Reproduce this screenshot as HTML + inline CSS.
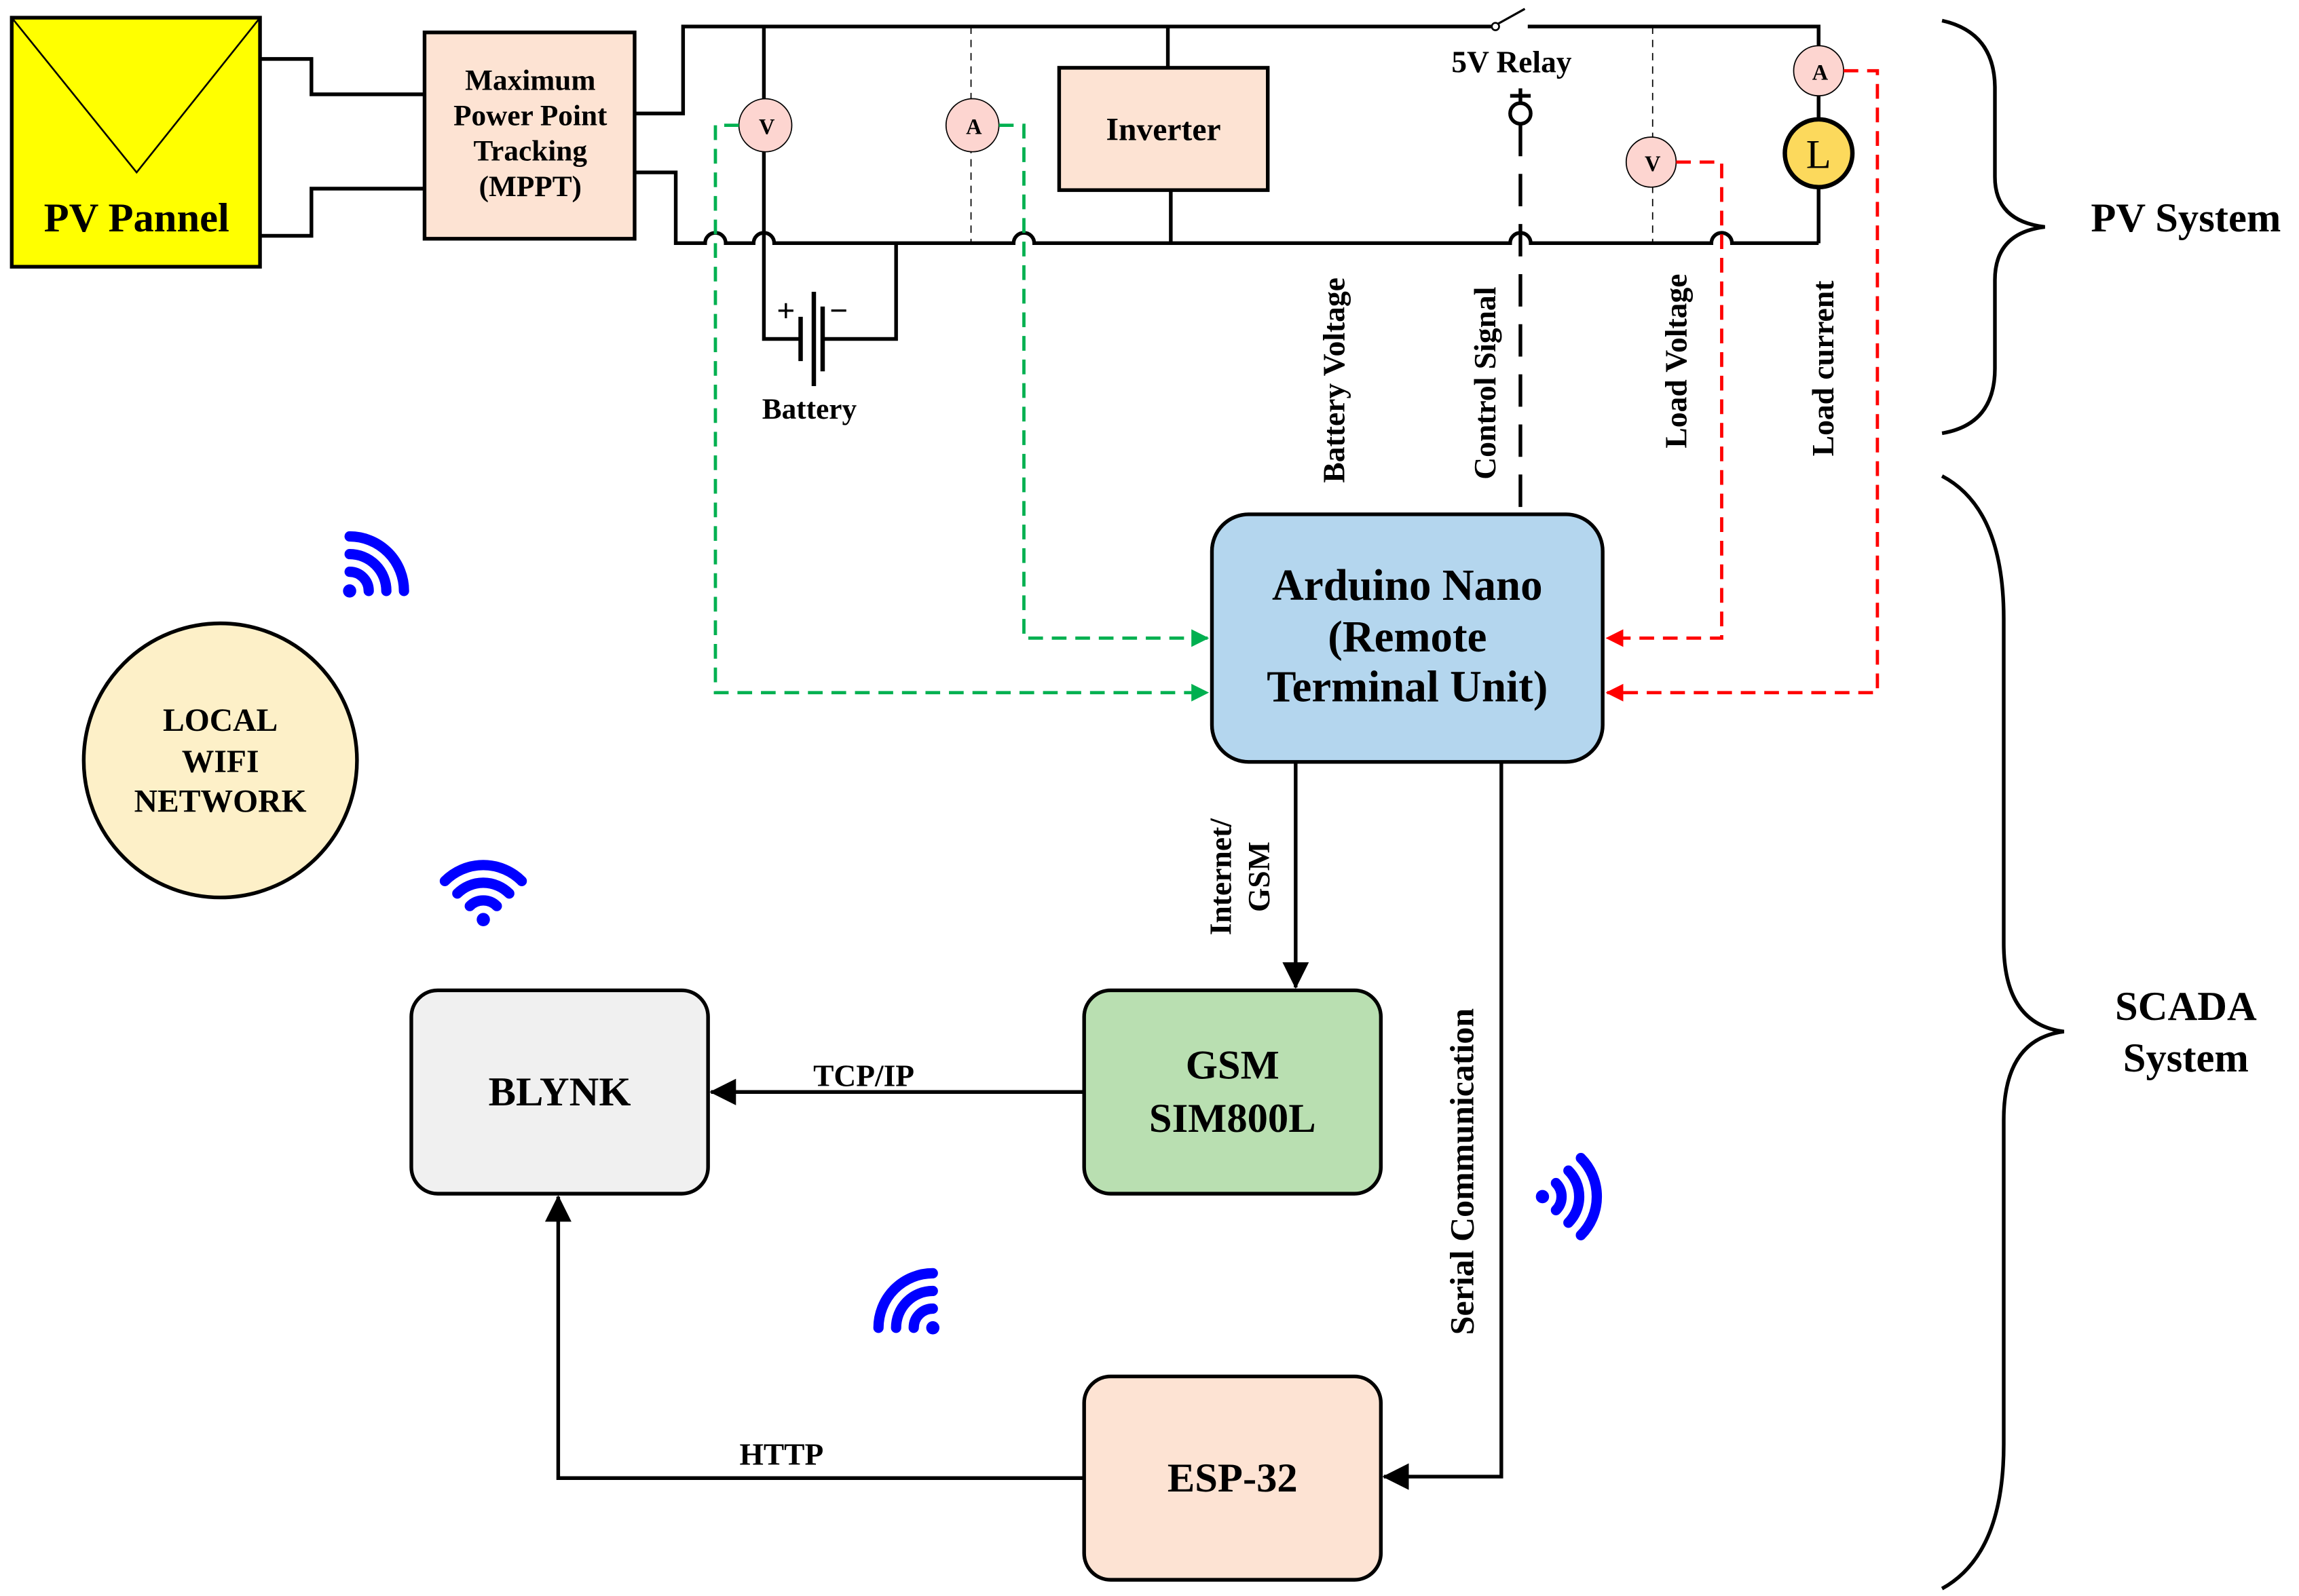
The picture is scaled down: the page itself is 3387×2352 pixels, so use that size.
<!DOCTYPE html>
<html><head><meta charset="utf-8"><style>
html,body{margin:0;padding:0;background:#fff;}
svg{display:block;}
text{font-family:"Liberation Serif",serif;font-weight:bold;fill:#000;}
</style></head><body>
<svg width="3387" height="2352" viewBox="0 0 1565 1083" preserveAspectRatio="none" xmlns="http://www.w3.org/2000/svg">
<defs>
<marker id="ag" markerWidth="12" markerHeight="12" refX="11" refY="6" orient="auto" markerUnits="userSpaceOnUse"><path d="M0,0 L12,6 L0,12 z" fill="#00b050"/></marker>
<marker id="ar" markerWidth="12" markerHeight="12" refX="11" refY="6" orient="auto" markerUnits="userSpaceOnUse"><path d="M0,0 L12,6 L0,12 z" fill="#ff0000"/></marker>
<marker id="ak" markerWidth="18" markerHeight="18" refX="17" refY="9" orient="auto" markerUnits="userSpaceOnUse"><path d="M0,0 L18,9 L0,18 z" fill="#000"/></marker>
<g id="wifi" fill="none" stroke="#0000ff" stroke-width="7" stroke-linecap="round">
<circle cx="0" cy="0" r="4.5" fill="#0000ff" stroke="none"/>
<path d="M0,-13 A13,13 0 0 1 13,0"/><path d="M0,-25 A25,25 0 0 1 25,0"/><path d="M0,-37 A37,37 0 0 1 37,0"/>
</g>
</defs>

<rect x="8" y="12" width="169" height="169" fill="#ffff00" stroke="#000" stroke-width="2.5"/>
<path d="M8,12 L93,117 L177,12" fill="none" stroke="#000" stroke-width="1.2"/>
<text x="93" y="157" font-size="28" text-anchor="middle">PV Pannel</text>

<g fill="none" stroke="#000" stroke-width="2.5">
<path d="M177,40 H212 V64 H289"/>
<path d="M177,160 H212 V128 H289"/>
<path d="M432,77 H465 V18 H1017"/>
<path d="M1040,18 H1238 V165"/>
<path d="M432,117 H460 V165 H480 a7,7 0 0 1 14,0 H513 a7,7 0 0 1 14,0 H690 a7,7 0 0 1 14,0 H1028 a7,7 0 0 1 14,0 H1165 a7,7 0 0 1 14,0 H1238"/>
<path d="M520,18 V67 M520,103 V230 H545 M560,230 H610 V165"/>
<path d="M795,18 V46 M797,129 V165"/>
<path d="M1238,18 V30 M1238,66 V80 M1238,128 V165"/>
</g>
<path d="M1010,18 H1016 M1020,16 L1038,6" stroke="#000" stroke-width="1.5" fill="none"/>
<circle cx="1018" cy="18" r="2.5" fill="#fff" stroke="#000" stroke-width="1.2"/>
<text x="1029" y="49" font-size="21" text-anchor="middle">5V Relay</text>
<path d="M1035,60 V72 M1028,65 H1042" stroke="#000" stroke-width="2.5"/>
<circle cx="1035" cy="77" r="7" fill="#fff" stroke="#000" stroke-width="2.5"/>
<path d="M1035,84 V348" stroke="#000" stroke-width="2.5" stroke-dasharray="22,12" fill="none"/>
<path d="M545,215 V245 M554,198 V262 M560,208 V252" stroke="#000" stroke-width="3"/>
<text x="535" y="218" font-size="22" text-anchor="middle">+</text>
<text x="571" y="218" font-size="22" text-anchor="middle">−</text>
<text x="551" y="284" font-size="20" text-anchor="middle">Battery</text>
<path d="M661,18 V165 M1125,18 V165" stroke="#000" stroke-width="0.8" stroke-dasharray="5,4"/>
<g stroke="#000" stroke-width="0.8" fill="#fdd5d0">
<circle cx="521" cy="85" r="18"/><circle cx="662" cy="85" r="18"/>
<circle cx="1124" cy="110" r="17"/><circle cx="1238" cy="48" r="17"/>
</g>
<g font-size="15" text-anchor="middle"><text x="522" y="91">V</text><text x="663" y="91">A</text><text x="1125" y="116">V</text><text x="1239" y="54">A</text></g>
<circle cx="1238" cy="104" r="23" fill="#fcd95c" stroke="#000" stroke-width="3"/>
<text x="1238" y="114" font-size="28" text-anchor="middle" style="font-weight:normal">L</text>

<rect x="289" y="22" width="143" height="140" fill="#fde3d3" stroke="#000" stroke-width="2.5"/>
<g font-size="20" text-anchor="middle"><text x="361" y="61">Maximum</text><text x="361" y="85">Power Point</text><text x="361" y="109">Tracking</text><text x="361" y="133">(MPPT)</text></g>
<rect x="721" y="46" width="142" height="83" fill="#fde3d3" stroke="#000" stroke-width="2.5"/>
<text x="792" y="95" font-size="22" text-anchor="middle">Inverter</text>

<g fill="none" stroke="#00b050" stroke-width="2.2" stroke-dasharray="10,6">
<path d="M503,85 H487 V470 H822" marker-end="url(#ag)"/>
<path d="M680,85 H697 V433 H822" marker-end="url(#ag)"/>
</g>
<g fill="none" stroke="#ff0000" stroke-width="2.2" stroke-dasharray="10,6">
<path d="M1141,110 H1172 V433 H1094" marker-end="url(#ar)"/>
<path d="M1255,48 H1278 V470 H1094" marker-end="url(#ar)"/>
</g>

<g font-size="21">
<text transform="translate(915,258) rotate(-90)" text-anchor="middle">Battery Voltage</text>
<text transform="translate(1018,260) rotate(-90)" text-anchor="middle">Control Signal</text>
<text transform="translate(1148,245) rotate(-90)" text-anchor="middle">Load Voltage</text>
<text transform="translate(1248,250) rotate(-90)" text-anchor="middle">Load current</text>
<text transform="translate(1003,795) rotate(-90)" text-anchor="middle" font-size="23">Serial Communication</text>
<text transform="translate(838,595) rotate(-90)" text-anchor="middle">Internet/</text>
<text transform="translate(864,595) rotate(-90)" text-anchor="middle">GSM</text>
</g>

<rect x="825" y="349" width="266" height="168" rx="25" fill="#b4d6ee" stroke="#000" stroke-width="2.5"/>
<g font-size="30" text-anchor="middle"><text x="958" y="407">Arduino Nano</text><text x="958" y="442">(Remote</text><text x="958" y="476">Terminal Unit)</text></g>

<g fill="none" stroke="#000" stroke-width="2.5">
<path d="M882,517 V670" marker-end="url(#ak)"/>
<path d="M1022,517 V1002 H942" marker-end="url(#ak)"/>
<path d="M738,741 H484" marker-end="url(#ak)"/>
<path d="M738,1003 H380 V812" marker-end="url(#ak)"/>
</g>
<g font-size="21" text-anchor="middle"><text x="588" y="737">TCP/IP</text><text x="532" y="994">HTTP</text></g>

<rect x="738" y="672" width="202" height="138" rx="18" fill="#b9dfb1" stroke="#000" stroke-width="2.5"/>
<g font-size="28" text-anchor="middle"><text x="839" y="732">GSM</text><text x="839" y="768">SIM800L</text></g>
<rect x="280" y="672" width="202" height="138" rx="18" fill="#f0f0f0" stroke="#000" stroke-width="2.5"/>
<text x="381" y="750" font-size="28" text-anchor="middle">BLYNK</text>
<rect x="738" y="934" width="202" height="138" rx="18" fill="#fde3d3" stroke="#000" stroke-width="2.5"/>
<text x="839" y="1012" font-size="28" text-anchor="middle">ESP-32</text>

<circle cx="150" cy="516" r="93" fill="#fdf0c8" stroke="#000" stroke-width="2.5"/>
<g font-size="22" text-anchor="middle"><text x="150" y="496">LOCAL</text><text x="150" y="524">WIFI</text><text x="150" y="551">NETWORK</text></g>

<use href="#wifi" transform="translate(238,401)"/>
<use href="#wifi" transform="translate(329,624) rotate(-45)"/>
<use href="#wifi" transform="translate(635,901) rotate(-90)"/>
<use href="#wifi" transform="translate(1050,812) rotate(45)"/>

<g fill="none" stroke="#000" stroke-width="2.5">
<path d="M1322,14 Q1358,22 1358,60 V120 Q1358,150 1392,154 Q1358,158 1358,190 V250 Q1358,288 1322,294"/>
<path d="M1322,323 Q1364,345 1364,420 V640 Q1364,695 1405,700 Q1364,705 1364,760 V980 Q1364,1055 1322,1078"/>
</g>
<text x="1488" y="157" font-size="28" text-anchor="middle">PV System</text>
<g font-size="28" text-anchor="middle"><text x="1488" y="692">SCADA</text><text x="1488" y="727">System</text></g>
</svg>
</body></html>
